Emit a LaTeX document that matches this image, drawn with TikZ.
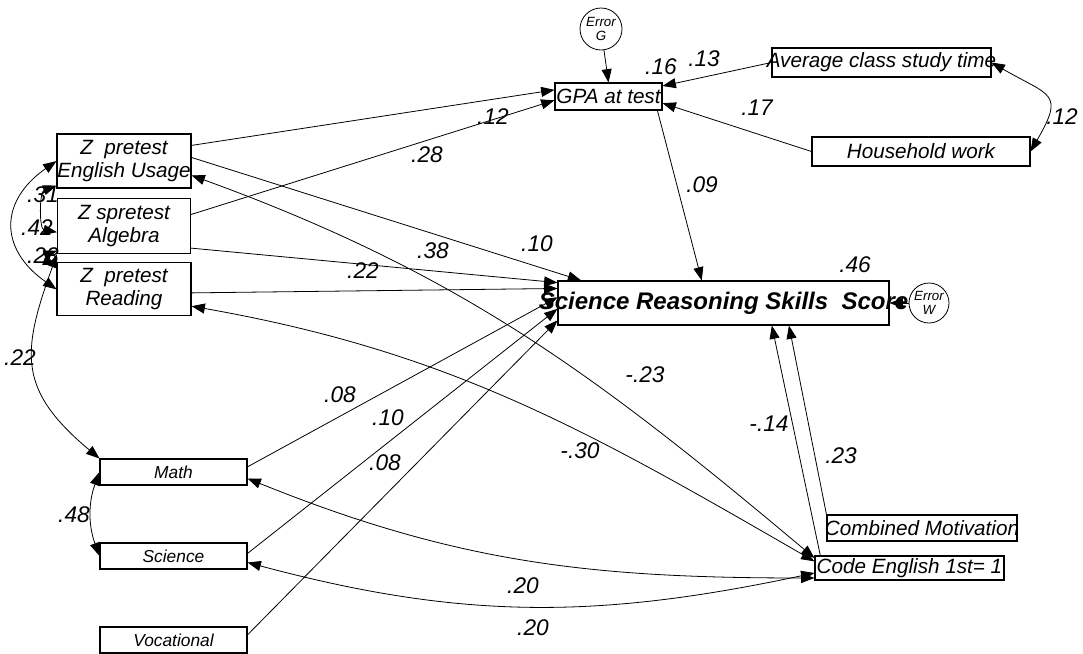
\documentclass[tikz,border=0pt]{standalone}
\usepackage{fontspec}
\setmainfont{Liberation Sans}
\usetikzlibrary{arrows.meta}

\tikzstyle{format}=[rectangle,draw,fill=white,inner sep=0pt,line width=0.8pt,align=center,font=\fontsize{15.5pt}{17pt}\selectfont\itshape]
\tikzstyle{dummy}=[format,font=\fontsize{13pt}{15pt}\selectfont\itshape,minimum width=110.25pt,minimum height=19.5pt]
\tikzstyle{error}=[circle,draw,fill=white,inner sep=0pt,line width=0.6pt,align=center,font=\fontsize{10pt}{10.5pt}\selectfont\itshape]
\tikzstyle{coef}=[inner sep=0pt,font=\fontsize{17pt}{17pt}\selectfont\itshape]

\begin{document}
\begin{tikzpicture}[x=0.75pt,y=-0.75pt,>={Triangle[length=10pt,width=7.5pt]},line width=0.6pt]
		\useasboundingbox (0,0) rectangle (1083,654);
		\node[format,minimum width=100.5pt,minimum height=40.5pt] (eng) at (124,161) {Z~~pretest\\English Usage};
		\node[format,below of=eng,node distance=49pt,minimum width=99.75pt,minimum height=41.25pt] (alg) {Z spretest\\Algebra};
		\node[format,below of=alg,node distance=47.25pt,minimum width=100.5pt,minimum height=39.75pt] (read) {Z~~pretest\\Reading};
		\node[format,minimum width=80.25pt,minimum height=20.25pt] (gpa) at (608.5,96.5) {GPA at test};
		\node[error,minimum size=31.5pt] (err_g) at (601,29) {Error\\G};
		\node[format,minimum width=164.25pt,minimum height=21.75pt] (avg) at (881.5,62.5) {\makebox[0pt]{Average class study time}};
		\node[format,minimum width=163.5pt,minimum height=21.75pt] (house) at (921,151.5) {Household work};
		\node[format,minimum width=248.25pt,minimum height=33pt,font=\fontsize{18pt}{20pt}\selectfont\bfseries\itshape] (srs) at (723.5,303) {\makebox[0pt]{Science Reasoning Skills~~Score}};
		\node[error,minimum size=30pt] (err_w) at (929,303) {Error\\W};
		\node[format,minimum width=142.5pt,minimum height=19.5pt] (comb) at (922,528) {\makebox[0pt]{Combined Motivation}};
		\node[format,minimum width=141.75pt,minimum height=18pt] (code) at (909.5,568) {Code English 1st= 1};
		\node[dummy] (math) at (173.5,472) {Math};
		\node[dummy,below of=math,node distance=63pt] (sci) {Science};
		\node[dummy,below of=sci,node distance=63pt] (voc) {Vocational};
		\draw[->] (eng.13)--(gpa.173);
		\draw[->] (alg.10)--(gpa.184);
		\draw[->] (avg.west)--(gpa.11);
		\draw[->] (house.west)--(gpa.-7);
		\draw[->] (err_g)--(gpa.north);
		\draw[->] (gpa.-16)--(srs.134);
		\draw[->] (eng.3)--(srs.171);
		\draw[->] (alg.-18)--(srs.173);
		\draw[->] (read.-3)--(srs.175);
		\draw[->] (math.4)--(srs.178);
		\draw[->] (sci.2)--(srs.182);
		\draw[->] (voc.4)--(srs.186);
		\draw[->] (code.172)--(srs.-25);
		\draw[->] (comb.north west)--(srs.-19);
		\draw[->] (err_w)--(srs.east);
		\draw[<->] (avg.east) to[out=-30,in=60,looseness=1.8] (house.east);
		\draw[<->] (eng.west) to[out=215,in=145,looseness=1.4] (read.west);
		\draw[<->] (eng.200) to[out=200,in=170] (alg.185);
		\draw[<->] (alg.200) to[out=200,in=160] (read.160);
		\draw[<->] (alg.south west) to[out=250,in=140,looseness=1.3] (math.north west);
		\draw[<->] (math.west) to[bend right=20] (sci.west);
		\draw[<->] (eng.-12) to[out=-20,in=140] (code.174);
		\draw[<->] (read.-14) to[out=-10,in=150] (code.176);
		\draw[<->] (math.-5) to[out=-22,in=180] (code.186);
		\draw[<->] (sci.-5) to[out=-15,in=192] (code.183);
		\node[coef] (r_eng_gpa) at (493,117) {.12};
		\node[coef] (r_alg_gpa) at (427,155) {.28};
		\node[coef] (r2_gpa) at (661,67) {.16};
		\node[coef] (r_avg_gpa) at (704,59) {.13};
		\node[coef] (r_avg_house) at (1062,117) {.12};
		\node[coef] (r_house_gpa) at (757,108) {.17};
		\node[coef] (r_gpa_srs) at (702,185) {.09};
		\node[coef] (r_eng_srs) at (537,244) {.10};
		\node[coef] (r_eng_code) at (433,251) {.38};
		\node[coef] (r_alg_srs) at (363,271) {.22};
		\node[coef] (r2_srs) at (855,265) {.46};
		\node[coef] (r_math_srs) at (340,395) {.08};
		\node[coef] (r_sci_srs) at (388,418) {.10};
		\node[coef] (r_voc_srs) at (385,463) {.08};
		\node[coef] (r_read_srs) at (645,375) {-.23};
		\node[coef] (r_read_code) at (580,451) {-.30};
		\node[coef] (r_code_srs) at (769,424) {-.14};
		\node[coef] (r_comb_srs) at (841,456) {.23};
		\node[coef] (r_math_code) at (523,586) {.20};
		\node[coef] (r_sci_code) at (533,628) {.20};
		\node[coef] (r_math_sci) at (74,515) {.48};
		\node[coef] (r_alg_math) at (20,358) {.22};
		\node[coef] (r_eng_read) at (37,228) {.42};
		\node[coef] (r_eng_alg) at (43,195) {.31};
		\node[coef] (r_alg_read) at (43,256) {.23};
		% \draw[<->] (voc.west) to[bend right] (sci.west);
	\end{tikzpicture}
\end{document}
